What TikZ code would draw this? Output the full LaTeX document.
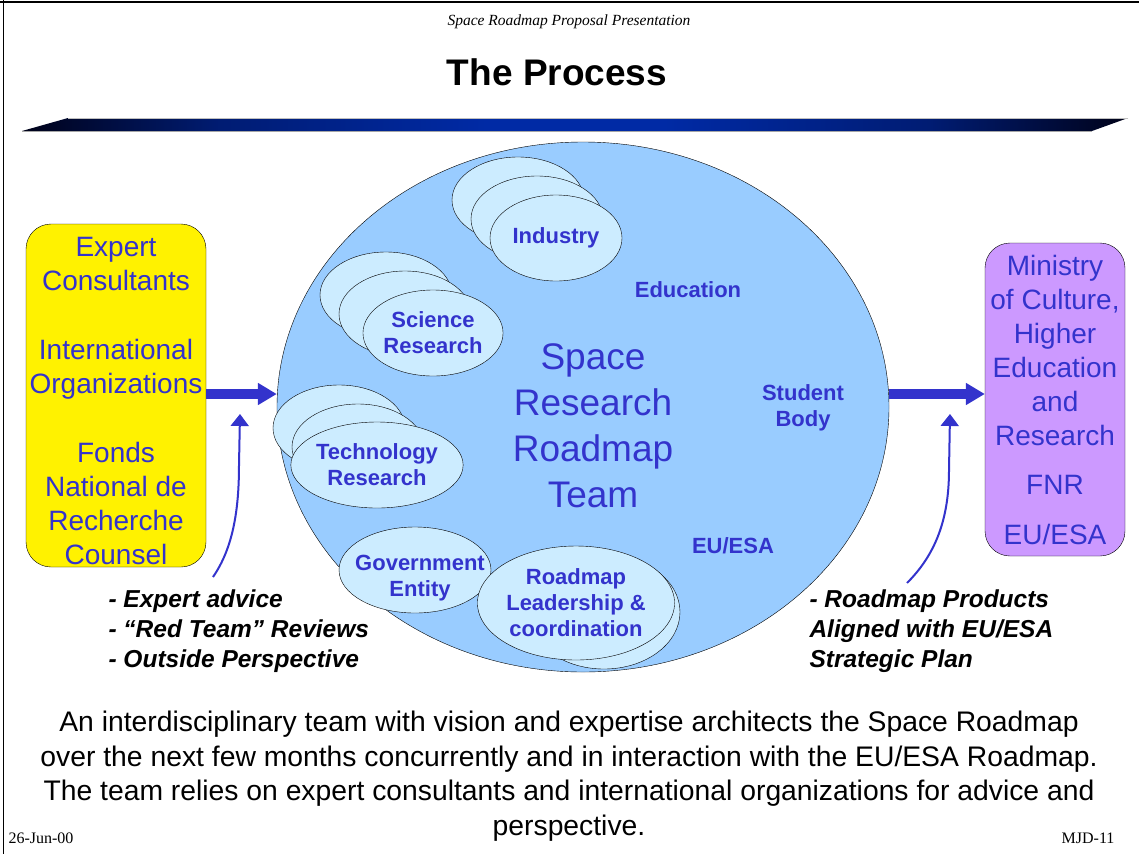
\documentclass[tikz,border=0pt]{standalone}
\usepackage{fontspec}
\setmainfont{Liberation Serif}
\setsansfont{Liberation Sans}
\usetikzlibrary{shapes.geometric,arrows.meta}
\definecolor{txtblue}{RGB}{51,51,204}
\definecolor{teamblue}{RGB}{153,204,255}
\definecolor{grpblue}{RGB}{204,236,255}
\definecolor{boxpurple}{RGB}{204,153,255}
\definecolor{barblue}{RGB}{0,42,165}
\definecolor{barmid}{RGB}{0,28,115}
\definecolor{barend}{RGB}{0,2,25}
\pgfdeclarehorizontalshading{barshade}{100bp}{color(0bp)=(barend); color(25bp)=(barend); color(34bp)=(barmid); color(46bp)=(barblue); color(54bp)=(barblue); color(66bp)=(barmid); color(75bp)=(barend); color(100bp)=(barend)}
\tikzset{
  grp/.style={draw=black,ellipse,fill=grpblue,minimum width=132,minimum height=86,inner sep=0pt,align=center,text=txtblue,font=\sffamily\bfseries\fontsize{22}{26}\selectfont},
  lbl/.style={text=txtblue,align=center,font=\sffamily\bfseries\fontsize{22}{26}\selectfont},
  sidebox/.style={draw=black,rounded corners=25,inner sep=0pt},
  boxtxt/.style={align=center,text=txtblue,font=\sffamily\fontsize{28}{34}\selectfont},
  note/.style={anchor=base west,align=left,font=\sffamily\bfseries\itshape\fontsize{24.5}{30}\selectfont},
  blockarrow/.style={-{Triangle[length=19pt,width=21pt]},line width=10pt,draw=txtblue},
  thinarrow/.style={-{Triangle[length=12pt,width=18pt]},line width=2pt,draw=txtblue}
}
\begin{document}
\begin{tikzpicture}[x=1pt,y=-1pt]
\useasboundingbox (0,0) rectangle (1139,854);
\draw[line width=2] (0,2) -- (1139,2);
\draw[line width=1] (3,0) -- (3,854);
\node[anchor=base,font=\itshape\fontsize{15.5}{18}\selectfont] (hdr) at (569,25) {Space Roadmap Proposal Presentation};
\node[anchor=base,font=\sffamily\bfseries\fontsize{37}{44}\selectfont] (title) at (557,85) {The Process};
\shade[shading=barshade] (22,131) -- (68,118) -- (1128,118) -- (1092,131) -- cycle;
\draw[gray!50,line width=1] (68,118) -- (1128,118);
\draw[gray!70,line width=0.8] (22,131) -- (1092,131);

\node[draw=black,ellipse,fill=teamblue,minimum width=612,minimum height=530,inner sep=0pt] (team) at (583,407) {};
\node[text=txtblue,align=center,font=\sffamily\fontsize{37}{46}\selectfont] (teamtxt) at (593,426) {Space\\Research\\Roadmap\\Team};

\node[grp] (ind1) at (518,200) {};
\node[grp] (ind2) at (537,219) {};
\node[grp] (ind) at (556,238) {Industry};
\node[grp] (sci1) at (386,295) {};
\node[grp] (sci2) at (405,314) {};
\node[grp] (sci) at (433,333) {Science\\Research};
\node[grp] (tech1) at (339,428) {};
\node[grp] (tech2) at (358,447) {};
\node[grp] (tech) at (377,465) {Technology\\Research};
\node[grp,minimum width=152] (gov) at (415,570) {};
\node[lbl] (govtxt) at (420,578) {Government\\Entity};
\node[grp,minimum width=152,minimum height=114] (lead1) at (604,612) {};
\node[grp,minimum width=152,minimum height=114] (lead) at (576,603) {Roadmap\\Leadership \&\\coordination};

\node[lbl] (edu) at (688,290) {Education};
\node[lbl] (stud) at (803,408) {Student\\Body};
\node[lbl] (euesa) at (733,546) {EU/ESA};

\node[sidebox,fill=yellow,minimum width=180,minimum height=343] (lbox) at (116,395.5) {};
\node[boxtxt] (ltxt) at (116,401) {Expert\\Consultants\\[35pt]International\\Organizations\\[35pt]Fonds\\National de\\Recherche\\Counsel};
\node[sidebox,fill=boxpurple,minimum width=140,minimum height=313] (rbox) at (1055,399.5) {};
\node[boxtxt] (rtxt) at (1055,400) {Ministry\\of Culture,\\Higher\\Education\\and\\Research\\[15pt]FNR\\[16pt]EU/ESA};

\draw[blockarrow] (lbox.east |- 0,394) -- (team.west |- 0,394);
\draw[blockarrow] (team.east |- 0,394) -- (rbox.west |- 0,394);

\coordinate (lfoot) at (213,577);
\coordinate (ltip) at (240,414);
\coordinate (rfoot) at (907,583);
\coordinate (rtip) at (950,414);
\draw[thinarrow] (lfoot) .. controls (233,548) and (239,510) .. (239,465) -- (ltip);
\draw[thinarrow] (rfoot) .. controls (935,555) and (949,520) .. (949,470) -- (rtip);

\node[note] (lnote) at (105,667) {- Expert advice\\- “Red Team” Reviews\\- Outside Perspective};
\node[note] (rnote) at (806,667) {- Roadmap Products\\Aligned with EU/ESA\\Strategic Plan};

\node[anchor=base,align=center,font=\sffamily\fontsize{28.3}{34.4}\selectfont] (summary) at (569,835) {An interdisciplinary team with vision and expertise architects the Space Roadmap\\over the next few months concurrently and in interaction with the EU/ESA Roadmap.\\The team relies on expert consultants and international organizations for advice and\\perspective.};
\node[anchor=base west,font=\fontsize{16}{18}\selectfont] (date) at (5,843) {26-Jun-00};
\node[anchor=base east,font=\fontsize{16}{18}\selectfont] (page) at (1118,843) {MJD-11};
\end{tikzpicture}
\end{document}
